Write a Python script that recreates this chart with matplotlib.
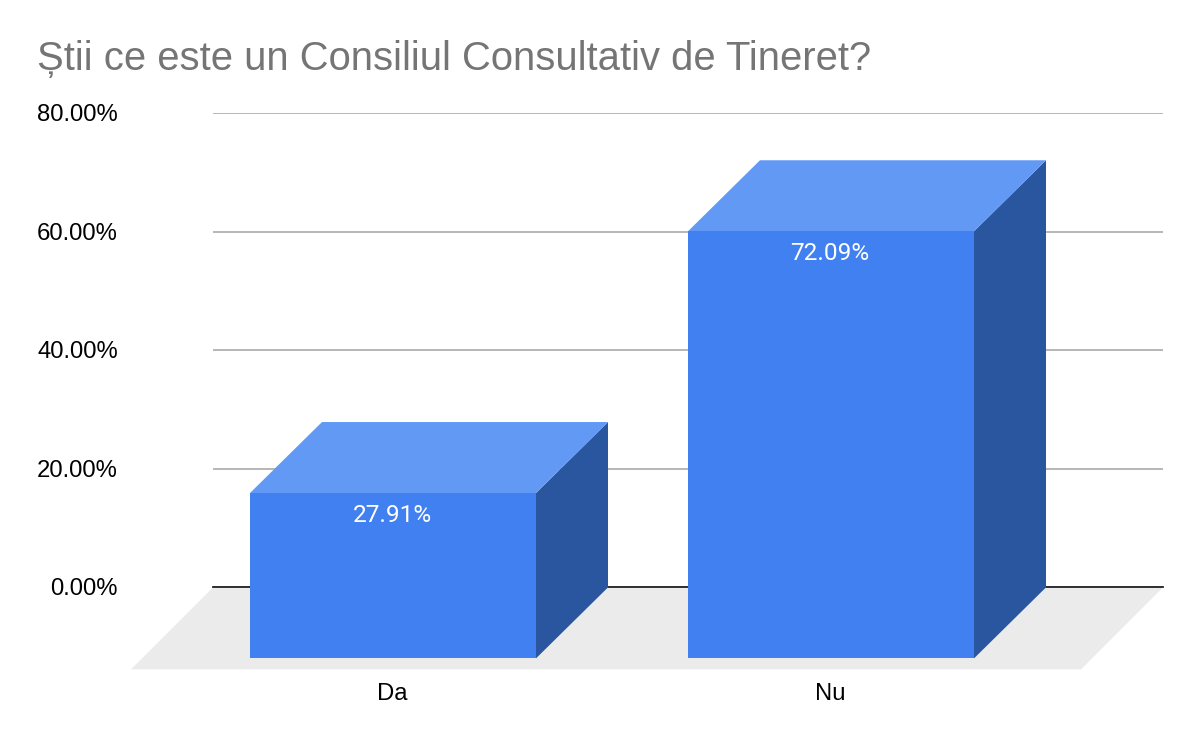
import matplotlib
matplotlib.use("Agg")
import matplotlib.pyplot as plt
from matplotlib.patches import Polygon
from matplotlib.transforms import ScaledTranslation

categories = ["Da", "Nu"]
values = [27.91, 72.09]
y_ticks = [0, 20, 40, 60, 80]
title = "Știi ce este un Consiliul Consultativ de Tineret?"

W, H = 1200, 742
FRONT, TOP, SIDE = "#4180f0", "#6199f5", "#2a569f"
FLOOR = "#ebebeb"
PX = 0.72  # points per pixel at dpi 100

fig = plt.figure(figsize=(W / 100, H / 100), dpi=100)
ax = fig.add_axes([213 / W, 1 - 587.4 / H, 950 / W, 474 / H])
ax.set_xlim(-252 / 438, 698 / 438)
ax.set_ylim(0, 80)
for s in ax.spines.values():
    s.set_visible(False)

dx = 72 / 438
dy = 71.0 / (474 / 80)
bar_w = 286 / 438
fx = 82 / 438
fy = 82 / (474 / 80)

ax.set_axisbelow(True)
ax.yaxis.grid(True, color="#b7b7b7", lw=1.4, zorder=0)
ax.xaxis.grid(False)
ax.tick_params(length=0)
ax.set_yticks(y_ticks)
ax.set_yticklabels([f"{t:.2f}%" for t in y_ticks], fontname="Liberation Sans",
                   fontsize=17.2, color="black")
ax.tick_params(axis="y", pad=95 * PX)
shift = ScaledTranslation(0, 0.5 / 100, fig.dpi_scale_trans)
for lab in ax.get_yticklabels():
    lab.set_transform(lab.get_transform() + shift)
ax.set_xticks([])

x0, x1 = ax.get_xlim()
ax.add_patch(Polygon([(x0, 0), (x1, 0), (x1 - fx, -fy), (x0 - fx, -fy)], closed=True,
                     fc=FLOOR, ec="none", clip_on=False, zorder=1))
ax.plot([x0, x1], [0, 0], color="#222222", lw=1.3, zorder=2, clip_on=False)

for i, (c, v) in enumerate(zip(categories, values)):
    l, r = i - bar_w / 2, i + bar_w / 2
    ax.add_patch(Polygon([(r, 0), (r, v), (r - dx, v - dy), (r - dx, -dy)], closed=True,
                         fc=SIDE, ec="none", clip_on=False, zorder=3))
    ax.add_patch(Polygon([(l, v), (r, v), (r - dx, v - dy), (l - dx, v - dy)], closed=True,
                         fc=TOP, ec="none", clip_on=False, zorder=3))
    ax.add_patch(Polygon([(l - dx, -dy), (r - dx, -dy), (r - dx, v - dy), (l - dx, v - dy)],
                         closed=True, fc=FRONT, ec="none", clip_on=False, zorder=4))
    ax.annotate(f"{v:.2f}%", (i - dx, v - dy), xytext=(-1 * PX, -22 * PX), textcoords="offset points",
                ha="center", va="center", color="white", fontname="Roboto", fontsize=17.6,
                zorder=5, annotation_clip=False)
    ax.annotate(c, (i - dx, -fy), xytext=(-0.8 * PX, -25 * PX), textcoords="offset points",
                ha="center", va="center", color="black", fontname="Liberation Sans",
                fontsize=17.2, annotation_clip=False)

fig.text(37 / W, 1 - 59 / H, title, fontname="Liberation Sans", fontsize=28.8,
         color="#757575", ha="left", va="center")
fig.savefig("out.png", dpi=100, facecolor="white")
